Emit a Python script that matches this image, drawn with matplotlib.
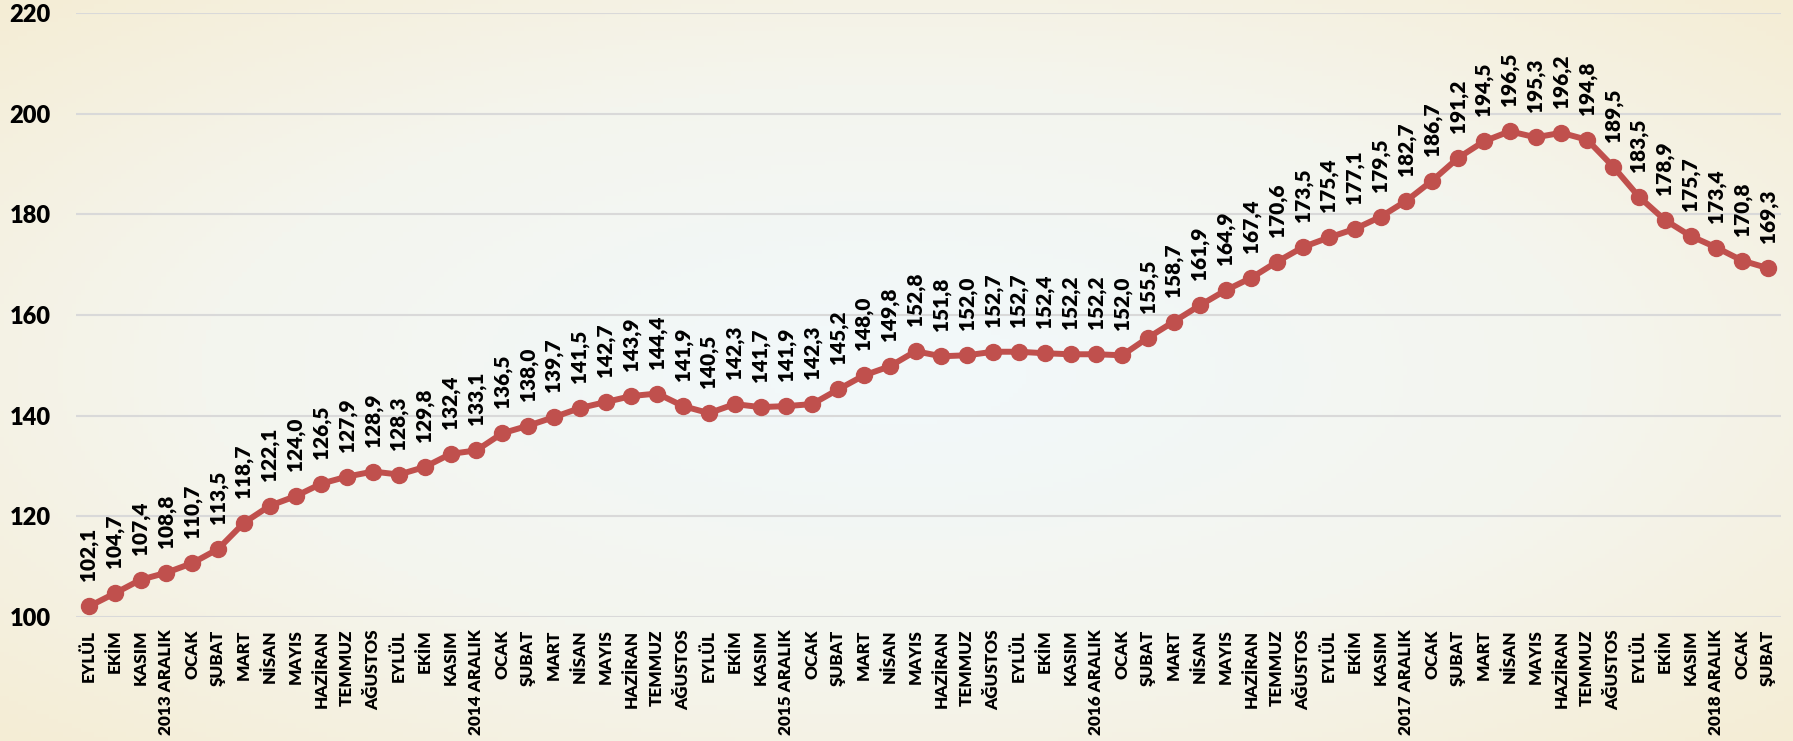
import numpy as np
import matplotlib
matplotlib.use("Agg")
import matplotlib.pyplot as plt
from matplotlib.colors import LinearSegmentedColormap

months = ["EYLÜL", "EKİM", "KASIM", "2013 ARALIK", "OCAK", "ŞUBAT", "MART", "NİSAN", "MAYIS",
          "HAZİRAN", "TEMMUZ", "AĞUSTOS", "EYLÜL", "EKİM", "KASIM", "2014 ARALIK", "OCAK", "ŞUBAT",
          "MART", "NİSAN", "MAYIS", "HAZİRAN", "TEMMUZ", "AĞUSTOS", "EYLÜL", "EKİM", "KASIM",
          "2015 ARALIK", "OCAK", "ŞUBAT", "MART", "NİSAN", "MAYIS", "HAZİRAN", "TEMMUZ", "AĞUSTOS",
          "EYLÜL", "EKİM", "KASIM", "2016 ARALIK", "OCAK", "ŞUBAT", "MART", "NİSAN", "MAYIS",
          "HAZİRAN", "TEMMUZ", "AĞUSTOS", "EYLÜL", "EKİM", "KASIM", "2017 ARALIK", "OCAK", "ŞUBAT",
          "MART", "NİSAN", "MAYIS", "HAZİRAN", "TEMMUZ", "AĞUSTOS", "EYLÜL", "EKİM", "KASIM",
          "2018 ARALIK", "OCAK", "ŞUBAT"]

values = [102.1, 104.7, 107.4, 108.8, 110.7, 113.5, 118.7, 122.1, 124.0, 126.5,
          127.9, 128.9, 128.3, 129.8, 132.4, 133.1, 136.5, 138.0, 139.7, 141.5,
          142.7, 143.9, 144.4, 141.9, 140.5, 142.3, 141.7, 141.9, 142.3, 145.2,
          148.0, 149.8, 152.8, 151.8, 152.0, 152.7, 152.7, 152.4, 152.2, 152.2,
          152.0, 155.5, 158.7, 161.9, 164.9, 167.4, 170.6, 173.5, 175.4, 177.1,
          179.5, 182.7, 186.7, 191.2, 194.5, 196.5, 195.3, 196.2, 194.8, 189.5,
          183.5, 178.9, 175.7, 173.4, 170.8, 169.3]

y_ticks = [100, 120, 140, 160, 180, 200, 220]

plt.rcParams['font.family'] = ['Lato', 'DejaVu Sans']

fig = plt.figure(figsize=(17.93, 7.41), dpi=100)

# background radial gradient
bg = fig.add_axes([0, 0, 1, 1], zorder=-10)
W, H = 400, 166
xx, yy = np.meshgrid(np.linspace(-1, 1, W), np.linspace(-1, 1, H))
r = np.sqrt(xx ** 2 + yy ** 2) / np.sqrt(2)
cmap = LinearSegmentedColormap.from_list("bg", ["#F2F8F9", "#F4F5EE", "#F4EDD5"])
bg.imshow(r, cmap=cmap, aspect="auto", extent=[0, 1, 0, 1], vmin=0.1, vmax=1.0)
bg.set_axis_off()

ax = fig.add_axes([76 / 1793, (741 - 617) / 741, (1781 - 76) / 1793, (617 - 13) / 741])
ax.patch.set_alpha(0)

x = np.arange(len(values))
ax.plot(x, values, color="#C0504D", lw=4.3, marker="o", ms=11.5, zorder=3)

for xi, v in zip(x, values):
    ax.annotate(f"{v:.1f}".replace(".", ","), (xi, v), xytext=(0, 18),
                textcoords="offset points", rotation=90, ha="center", va="bottom",
                fontsize=15, fontweight="heavy", color="black")

ax.set_xlim(-0.5, len(values) - 0.5)
ax.set_ylim(100, 220)
ax.set_yticks(y_ticks)
ax.set_yticklabels([str(t) for t in y_ticks], fontsize=17, fontweight="heavy")
ax.set_xticks(x)
ax.set_xticklabels(months, rotation=90, fontsize=12.3, fontweight="heavy")
ax.tick_params(axis="y", length=0, pad=18)
ax.tick_params(axis="x", length=0, pad=9)
ax.grid(axis="y", color="#D9D9D9", lw=1.5, zorder=0)
ax.set_axisbelow(True)
for s in ax.spines.values():
    s.set_visible(False)

fig.savefig("out.png", dpi=100)
